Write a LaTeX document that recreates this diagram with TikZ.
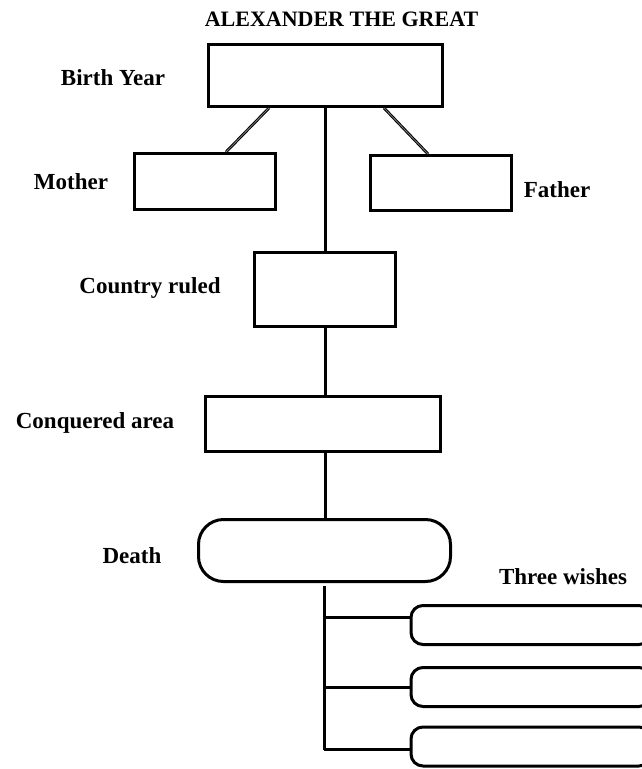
\documentclass[tikz,border=0pt]{standalone}
\usepackage{fontspec}
\setmainfont{Liberation Serif}
\begin{document}
\begin{tikzpicture}[x=1pt, y=-1pt,
        box/.style={draw, line width=3pt, inner sep=0pt},
        roundbox/.style={box, rounded corners=#1},
        label/.style={font=\bfseries\fontsize{23}{27}\selectfont},
        link/.style={line width=3pt},
        branch/.style={line width=1pt, double=gray, double distance=0.8pt}]
        \useasboundingbox (0,0) rectangle (641,769);

        \node [label, font=\bfseries\fontsize{22}{26}\selectfont] (title) at (341.5,19) {ALEXANDER THE GREAT};

        \node [box, minimum width=234pt, minimum height=62pt] (birth) at (325,75.5) {};
        \node [box, minimum width=141pt, minimum height=56pt] (mother) at (205,181.5) {};
        \node [box, minimum width=141pt, minimum height=55pt] (father) at (441,183) {};
        \node [box, minimum width=141pt, minimum height=74pt] (country) at (325,289) {};
        \node [box, minimum width=235pt, minimum height=55pt] (conquered) at (323,424) {};
        \node [roundbox=25pt, minimum width=252pt, minimum height=62pt] (death) at (324.5,550.5) {};
        \node [roundbox=12pt, minimum width=240pt, minimum height=39pt] (wishA) at (531,625) {};
        \node [roundbox=12pt, minimum width=240pt, minimum height=39pt] (wishB) at (531,687) {};
        \node [roundbox=12pt, minimum width=240pt, minimum height=39pt] (wishC) at (531,746.5) {};

        \node [label] (birthtext) at (113,78) {Birth Year};
        \node [label] (mothertext) at (71,182) {Mother};
        \node [label] (fathertext) at (557,190) {Father};
        \node [label] (countrytext) at (150,288) {Country ruled};
        \node [label] (conqueredtext) at (95,423) {Conquered area};
        \node [label] (deathtext) at (132,556) {Death};
        \node [label] (wishtext) at (563,577) {Three wishes};

        \draw [branch] (birth.south) ++(-56,0) coordinate (bl) (bl)--(mother.north -| 226,0); % Left
        \draw [branch] (birth.south) ++(59,0) coordinate (br) (br)--(father.north -| 428,0); % Right

        \draw [link] (birth.south)--(birth.south |- country.north);
        \draw [link] (country.south)--(country.south |- conquered.north);
        \draw [link] (conquered.south -| country.south)--(death.north -| country.south);

        \coordinate (fork) at (324,586);
        \draw [link] (fork)--(fork |- 0,750);
        \draw [link] (fork |- 0,617)--([yshift=8pt]wishA.west);
        \draw [link] (fork |- wishB.west)--(wishB.west);
        \draw [link] (fork |- 0,749)--([yshift=-2.5pt]wishC.west);
    \end{tikzpicture}
\end{document}
